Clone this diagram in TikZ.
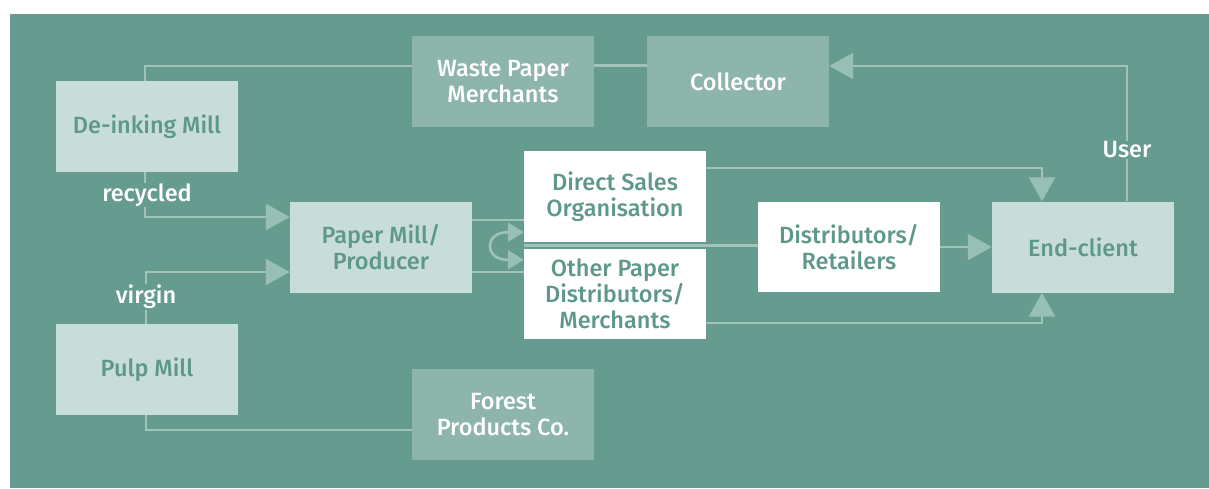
\documentclass[tikz,border=0pt]{standalone}
\usepackage{fontspec}
\setmainfont{Fira Sans Medium}
\usetikzlibrary{arrows.meta,calc}
\definecolor{bg}{HTML}{669C8F}
\definecolor{lightbox}{HTML}{C8DCD8}
\definecolor{midbox}{HTML}{8DB5AC}
\definecolor{txtgreen}{HTML}{5E988A}
\definecolor{linecol}{HTML}{A0C3BA}
\definecolor{headcol}{HTML}{98BFB5}
\tikzset{
  box/.style={inner sep=0pt, minimum width=182pt, minimum height=91pt, align=center,
    font=\fontsize{23.5}{26}\selectfont},
  lightb/.style={box, fill=lightbox, text=txtgreen},
  midb/.style={box, fill=midbox, text=white},
  whiteb/.style={box, fill=white, text=txtgreen},
  conn/.style={draw=linecol, line width=2.5pt},
  bigarr/.style={-{Triangle[length=24pt,width=26pt,fill=headcol,color=headcol]}},
  lbl/.style={fill=bg, text=white, inner sep=1pt, font=\fontsize{23.5}{26}\selectfont},
}
\begin{document}
\begin{tikzpicture}[x=1pt,y=-1pt]
\useasboundingbox (0,0) rectangle (1209,488);
\fill[bg] (10,14) rectangle (1209,488);
% nodes
\node[lightb] (deink) at (147,126.5) {De-inking Mill};
\node[midb] (wpm) at (503,81.5) {Waste Paper\\Merchants};
\node[midb] (coll) at (738,81.5) {Collector};
\node[lightb] (pm) at (381,247.5) {Paper Mill/\\Producer};
\node[lightb] (ec) at (1083,247) {End-client};
\node[lightb] (pulp) at (147,369.5) {Pulp Mill};
\node[midb] (fpc) at (503,414.5) {Forest\\Products Co.};
\node[whiteb, minimum height=90pt] (dr) at (849,247) {Distributors/\\Retailers};
\coordinate (gap) at (524,245.5);
% connectors behind white boxes
\draw[conn] (gap) -- (gap -| dr.west);
\node[whiteb] (dso) at (615,196.5) {Direct Sales\\Organisation};
\node[whiteb, minimum height=90pt] (opd) at (615,294) {Other Paper\\Distributors/\\Merchants};
% top chain
\draw[conn] ($(deink.north)+(-2,0)$) |- ($(wpm.west)+(0,-15.5)$);
\draw[conn] ($(wpm.east)+(0,-16)$) -- ($(coll.west)+(0,-16)$);
\draw[conn, bigarr] ($(ec.north)+(44,0)$) |- ($(coll.east)+(0,-15.5)$);
\node[lbl] (user) at (1127,150) {User};
% to end-client
\draw[conn, bigarr] (dr.east) -- (ec.west);
\draw[conn, bigarr] ($(dso.east)+(0,-28.5)$) -| ($(ec.north)+(-41,0)$);
\draw[conn, bigarr] ($(opd.east)+(0,29)$) -| ($(ec.south)+(-41,0)$);
% paper mill to sales
\draw[conn] ($(pm.east)+(0,-27.5)$) -- ($(dso.west |- pm.east)+(0,-27.5)$);
\draw[conn] ($(pm.east)+(0,24.5)$) -- ($(opd.west |- pm.east)+(0,24.5)$);
\draw[conn, {Triangle[length=16pt,width=19pt,fill=headcol,color=headcol]}-{Triangle[length=16pt,width=19pt,fill=headcol,color=headcol]}]
  ($(dso.south west)+(0,-10)$) -- ($(dso.south west)+(-16,-10)$)
  .. controls +(-24,0) and +(-24,0) .. ($(opd.north west)+(-16,11)$) -- ($(opd.north west)+(0,11)$);
% mills to paper mill
\draw[conn, bigarr] ($(deink.south)+(-2,0)$) |- ($(pm.west)+(0,-30.5)$);
\node[lbl] (rec) at (147,195) {recycled};
\draw[conn, bigarr] ($(pulp.north)+(-1,0)$) |- ($(pm.west)+(0,24.5)$);
\node[lbl] (vir) at (146,297) {virgin};
\draw[conn] ($(pulp.south)+(-1,0)$) |- ($(fpc.west)+(0,15.5)$);
\end{tikzpicture}
\end{document}
